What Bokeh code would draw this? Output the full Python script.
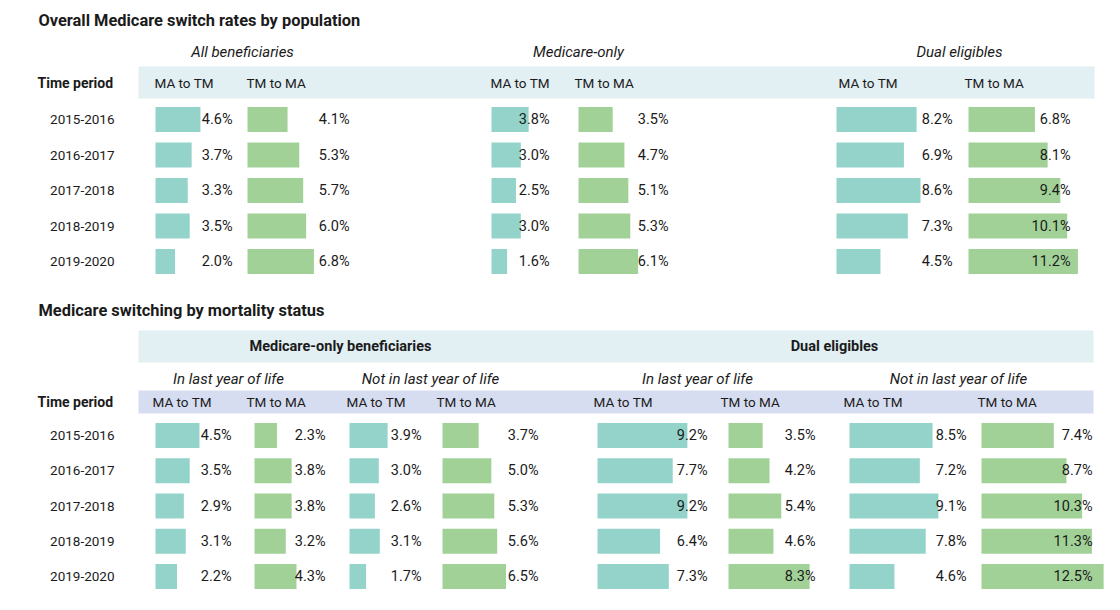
from bokeh.plotting import figure
from bokeh.models import Range1d, ColumnDataSource
from bokeh.core.properties import value
from bokeh.embed import file_html
from bokeh.resources import INLINE

# ---------------------------------------------------------------- data
periods = ["2015-2016", "2016-2017", "2017-2018", "2018-2019", "2019-2020"]
directions = ["MA to TM", "TM to MA"]

# Overall switch rates by population (%)
all_ma_to_tm = [4.6, 3.7, 3.3, 3.5, 2.0]
all_tm_to_ma = [4.1, 5.3, 5.7, 6.0, 6.8]
mo_ma_to_tm = [3.8, 3.0, 2.5, 3.0, 1.6]
mo_tm_to_ma = [3.5, 4.7, 5.1, 5.3, 6.1]
dual_ma_to_tm = [8.2, 6.9, 8.6, 7.3, 4.5]
dual_tm_to_ma = [6.8, 8.1, 9.4, 10.1, 11.2]

# Switching by mortality status (%)
mo_last_ma_to_tm = [4.5, 3.5, 2.9, 3.1, 2.2]
mo_last_tm_to_ma = [2.3, 3.8, 3.8, 3.2, 4.3]
mo_notlast_ma_to_tm = [3.9, 3.0, 2.6, 3.1, 1.7]
mo_notlast_tm_to_ma = [3.7, 5.0, 5.3, 5.6, 6.5]
dual_last_ma_to_tm = [9.2, 7.7, 9.2, 6.4, 7.3]
dual_last_tm_to_ma = [3.5, 4.2, 5.4, 4.6, 8.3]
dual_notlast_ma_to_tm = [8.5, 7.2, 9.1, 7.8, 4.6]
dual_notlast_tm_to_ma = [7.4, 8.7, 10.3, 11.3, 12.5]

# ---------------------------------------------------------------- styling
W, H = 1120, 610
FONT = "Roboto"
INK = "#1b1b1b"
TEAL = "#93d3c9"
GREEN = "#a1d197"
BAND_BLUE = "#e2eff3"
BAND_LAV = "#d7ddf0"
PX_PER_PCT = 9.77          # common bar scale for every column
BAR_PX = 25
VALUE_SIZE = 14.5
HEAD_SIZE = 13.5
TITLE_SIZE = 16.4

p = figure(width=W, height=H, x_range=Range1d(0, W), y_range=Range1d(H, 0),
           output_backend="svg", toolbar_location=None, min_border=0,
           x_axis_location=None, y_axis_location=None)
p.grid.visible = False
p.outline_line_color = None
p.background_fill_color = "white"
p.border_fill_color = "white"


def label(x, y, txt, size=HEAD_SIZE, align="left", style="normal", color=INK):
    p.text(x=[x], y=[y], text=[txt], text_font=value(FONT),
           text_font_size=f"{size}px", text_font_style=style,
           text_align=align, text_baseline="middle", text_color=color)


def band(x0, x1, y0, y1, color):
    p.quad(left=[x0], right=[x1], top=[y0], bottom=[y1],
           fill_color=color, line_color=None)


def row_range(name, first_row_px, step_px):
    # maps row index i onto first_row_px + i * step_px (top-down)
    p.extra_y_ranges[name] = Range1d(start=(H - first_row_px) / step_px,
                                     end=-first_row_px / step_px)
    return step_px


def bar_column(key, vals, bar_x0, label_right, rows, step_px, color):
    p.extra_x_ranges[key] = Range1d(start=-bar_x0 / PX_PER_PCT,
                                    end=(W - bar_x0) / PX_PER_PCT)
    src = ColumnDataSource(dict(
        idx=list(range(len(vals))), val=vals,
        txt=[f"{v:.1f}%" for v in vals]))
    p.hbar(y="idx", left=0, right="val", height=BAR_PX / step_px,
           fill_color=color, line_color=None, source=src,
           x_range_name=key, y_range_name=rows)
    return src, label_right, rows


def value_labels(src, label_right, rows):
    p.text(x=label_right, y="idx", text="txt", source=src,
           text_font=value(FONT), text_font_size=f"{VALUE_SIZE}px",
           text_align="right", text_baseline="middle", text_color=INK,
           y_range_name=rows)


def period_labels(rows):
    src = ColumnDataSource(dict(idx=list(range(len(periods))), txt=periods))
    p.text(x=114, y="idx", text="txt", source=src, text_font=value(FONT),
           text_font_size=f"{HEAD_SIZE}px", text_align="right",
           text_baseline="middle", text_color=INK, y_range_name=rows)


# ================================================================ top table
label(38, 20, "Overall Medicare switch rates by population", TITLE_SIZE, style="bold")
band(138, 1094, 66, 98, BAND_BLUE)
label(37, 82, "Time period", 14, style="bold")
for cx, name in [(242, "All beneficiaries"), (578, "Medicare-only"),
                 (959, "Dual eligibles")]:
    label(cx, 51, name, 15, align="center", style="italic")

top_step = row_range("top_rows", 119, 35.5)
top_cols = [
    ("all_mt", all_ma_to_tm, 155, 232, TEAL, 154),
    ("all_tm", all_tm_to_ma, 247, 349, GREEN, 246),
    ("mo_mt", mo_ma_to_tm, 491, 549, TEAL, 490),
    ("mo_tm", mo_tm_to_ma, 578, 668, GREEN, 574),
    ("dual_mt", dual_ma_to_tm, 836, 952, TEAL, 838),
    ("dual_tm", dual_tm_to_ma, 968, 1070, GREEN, 964),
]
top_labels = []
for i, (key, vals, x0, lr, col, hx) in enumerate(top_cols):
    label(hx, 82, directions[i % 2])
    top_labels.append(bar_column(key, vals, x0, lr, "top_rows", top_step, col))
for args in top_labels:
    value_labels(*args)
period_labels("top_rows")

# ============================================================= bottom table
label(38, 310, "Medicare switching by mortality status", TITLE_SIZE, style="bold")
band(138, 1093, 330, 362, BAND_BLUE)
label(340, 346, "Medicare-only beneficiaries", 14.5, align="center", style="bold")
label(834, 346, "Dual eligibles", 14.5, align="center", style="bold")
for cx, name in [(228, "In last year of life"), (430, "Not in last year of life"),
                 (697, "In last year of life"), (958, "Not in last year of life")]:
    label(cx, 378, name, 15, align="center", style="italic")
band(138, 1093, 390, 413, BAND_LAV)
label(37, 401, "Time period", 14, style="bold")

bot_step = row_range("bot_rows", 435, 35.25)
bot_cols = [
    ("mol_mt", mo_last_ma_to_tm, 155, 231, TEAL, 152),
    ("mol_tm", mo_last_tm_to_ma, 254, 325, GREEN, 246),
    ("mon_mt", mo_notlast_ma_to_tm, 349, 421, TEAL, 346),
    ("mon_tm", mo_notlast_tm_to_ma, 442, 538, GREEN, 436),
    ("dl_mt", dual_last_ma_to_tm, 597, 707, TEAL, 593),
    ("dl_tm", dual_last_tm_to_ma, 728, 815, GREEN, 720),
    ("dn_mt", dual_notlast_ma_to_tm, 849, 966, TEAL, 843),
    ("dn_tm", dual_notlast_tm_to_ma, 981, 1092, GREEN, 977),
]
bot_labels = []
for i, (key, vals, x0, lr, col, hx) in enumerate(bot_cols):
    label(hx, 401, directions[i % 2])
    bot_labels.append(bar_column(key, vals, x0, lr, "bot_rows", bot_step, col))
for args in bot_labels:
    value_labels(*args)
period_labels("bot_rows")

open("out.html", "w").write(file_html(p, INLINE))
